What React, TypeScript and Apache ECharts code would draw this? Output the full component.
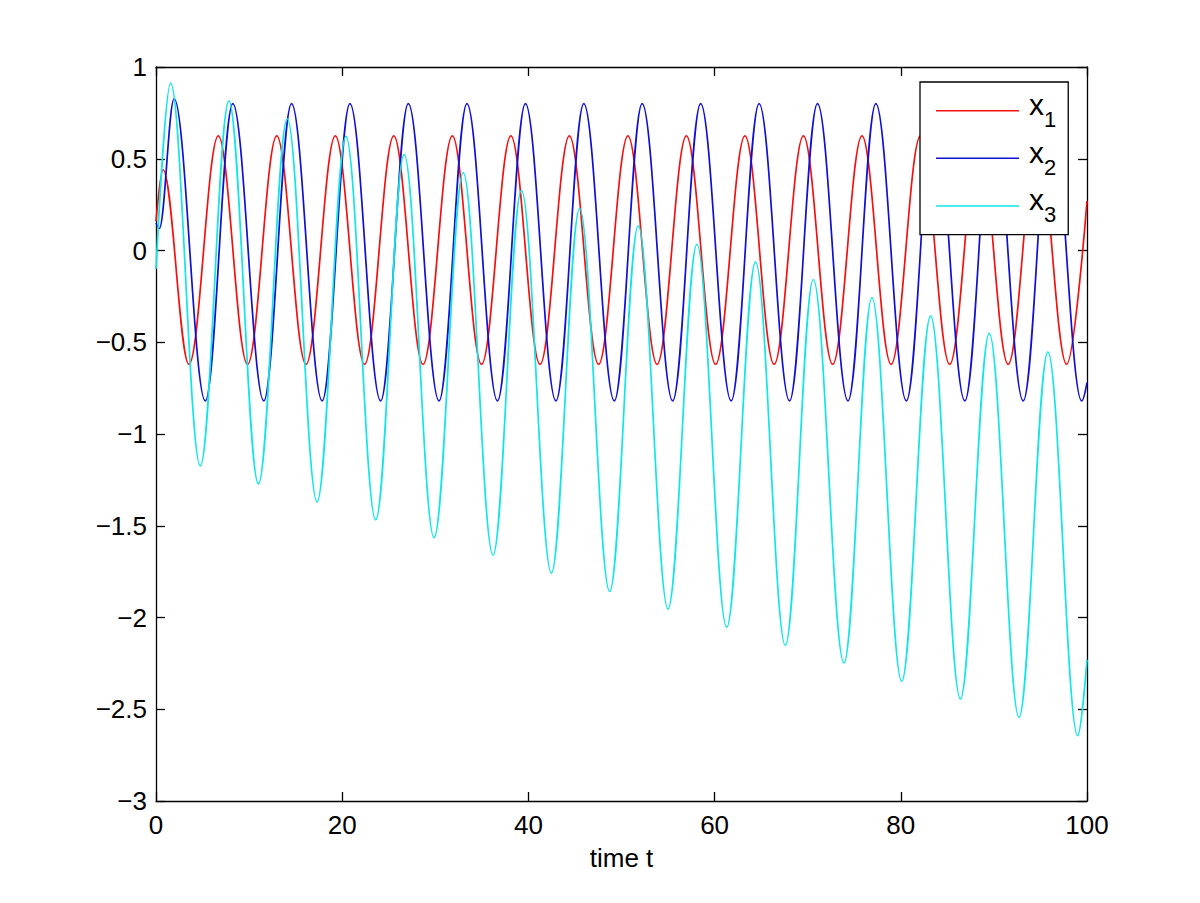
import React, { useEffect, useRef } from "react";
import * as echarts from "echarts";

// x1 (red): start, extrema, end
const x1T = [0, 0.75, 3.54, 6.69, 9.83, 12.97, 16.11, 19.26, 22.4, 25.54, 28.68, 31.83, 34.97, 38.12, 41.25, 44.4, 47.54, 50.69, 53.82, 56.97, 60.11, 63.26, 66.39, 69.54, 72.68, 75.83, 78.96, 82.11, 85.25, 88.4, 91.53, 94.68, 97.82, 100];
const x1Y = [0.16, 0.44, -0.62, 0.625, -0.62, 0.625, -0.62, 0.625, -0.62, 0.625, -0.62, 0.625, -0.62, 0.625, -0.62, 0.625, -0.62, 0.625, -0.62, 0.625, -0.62, 0.625, -0.62, 0.625, -0.62, 0.625, -0.62, 0.625, -0.62, 0.625, -0.62, 0.625, -0.62, 0.27];

// x2 (blue)
const x2T = [0, 0.36, 1.95, 5.3, 8.25, 11.58, 14.56, 17.85, 20.83, 24.13, 27.1, 30.4, 33.4, 36.68, 39.68, 42.96, 45.95, 49.23, 52.22, 55.5, 58.5, 61.78, 64.78, 68.05, 71.05, 74.33, 77.32, 80.6, 83.6, 86.88, 89.88, 93.15, 96.15, 99.43, 100];
const x2Y = [0.15, 0.12, 0.827, -0.82, 0.8, -0.82, 0.8, -0.82, 0.8, -0.82, 0.8, -0.82, 0.8, -0.82, 0.8, -0.82, 0.8, -0.82, 0.8, -0.82, 0.8, -0.82, 0.8, -0.82, 0.8, -0.82, 0.8, -0.82, 0.8, -0.82, 0.8, -0.82, 0.8, -0.82, -0.72];

// x3 (cyan)
const x3T = [0, 1.57, 4.76, 7.83, 11.0, 14.1, 17.3, 20.4, 23.6, 26.65, 29.87, 33.0, 36.2, 39.25, 42.47, 45.5, 48.73, 51.8, 55.0, 58.1, 61.3, 64.4, 67.6, 70.6, 73.9, 76.9, 80.1, 83.2, 86.4, 89.5, 92.7, 95.8, 99.0, 100];
const x3Y = [-0.1, 0.912, -1.174, 0.815, -1.272, 0.718, -1.37, 0.622, -1.468, 0.524, -1.565, 0.424, -1.66, 0.328, -1.758, 0.229, -1.858, 0.134, -1.954, 0.034, -2.054, -0.062, -2.152, -0.158, -2.248, -0.256, -2.348, -0.356, -2.444, -0.452, -2.544, -0.552, -2.644, -2.23];

const seriesNames = ["x1", "x2", "x3"];
const seriesColors = ["#f51010", "#1010d4", "#10e6e6"];
const xLabel = "time t";

const FONT = "'Liberation Sans', Arial, Helvetica, sans-serif";

function pairs(t: number[], y: number[]) {
  return t.map((v, i) => [v, y[i]]);
}

export default function App() {
  const ref = useRef<HTMLDivElement>(null);
  useEffect(() => {
    if (!ref.current) return;
    const chart = echarts.init(ref.current, undefined, { renderer: "svg" });
    const axisLine = { show: true, onZero: false, lineStyle: { color: "#000", width: 1.3 } };
    const axisTick = { show: true, inside: true, length: 9, lineStyle: { color: "#000", width: 1.3 } };
    const data = [pairs(x1T, x1Y), pairs(x2T, x2Y), pairs(x3T, x3Y)];
    chart.setOption({
      animation: false,
      backgroundColor: "#fff",
      textStyle: { fontFamily: FONT },
      grid: { left: 156, top: 67, width: 931, height: 734, containLabel: false },
      xAxis: [
        {
          type: "value", min: 0, max: 100, interval: 20, position: "bottom",
          axisLine, axisTick, splitLine: { show: false },
          axisLabel: { color: "#000", fontSize: 26, fontFamily: FONT, margin: 11 },
          name: xLabel, nameLocation: "middle", nameGap: 44,
          nameTextStyle: { color: "#000", fontSize: 26, fontFamily: FONT },
        },
        {
          type: "value", min: 0, max: 100, interval: 20, position: "top",
          axisLine, axisTick, splitLine: { show: false }, axisLabel: { show: false },
        },
      ],
      yAxis: [
        {
          type: "value", min: -3, max: 1, interval: 0.5, position: "left",
          axisLine, axisTick, splitLine: { show: false },
          axisLabel: {
            color: "#000", fontSize: 26, fontFamily: FONT, margin: 9,
            formatter: (v: number) => String(v).replace("-", "\u2212"),
          },
        },
        {
          type: "value", min: -3, max: 1, interval: 0.5, position: "right",
          axisLine, axisTick, splitLine: { show: false }, axisLabel: { show: false },
        },
      ],
      legend: {
        orient: "vertical",
        left: 920, top: 82,
        padding: [7.7, 12, 7.7, 16],
        itemGap: 5.6,
        itemWidth: 83, itemHeight: 1.5,
        icon: "rect",
        backgroundColor: "#fff",
        borderColor: "#000", borderWidth: 1.3,
        data: seriesNames,
        formatter: (name: string) => `{x|x}{s|${name.substring(1)}}`,
        textStyle: {
          color: "#000", fontFamily: FONT,
          rich: {
            x: { fontSize: 30, lineHeight: 24, padding: [0, 0, 12, 5], fontFamily: FONT, color: "#000" },
            s: { fontSize: 22, lineHeight: 18, padding: [18, 0, 0, 0], fontFamily: FONT, color: "#000" },
          },
        },
      },
      series: seriesNames.map((n, i) => ({
        name: n, type: "line", data: data[i],
        xAxisIndex: 0, yAxisIndex: 0,
        showSymbol: false, symbol: "none",
        smooth: 0.36, smoothMonotone: "x",
        color: seriesColors[i],
        lineStyle: { color: seriesColors[i], width: 1.7 },
        itemStyle: { color: seriesColors[i] },
      })),
    });
    return () => chart.dispose();
  }, []);
  return (
    <div
      ref={ref}
      style={{ position: "fixed", left: 0, top: 0, width: 1200, height: 903, background: "#fff" }}
    />
  );
}
